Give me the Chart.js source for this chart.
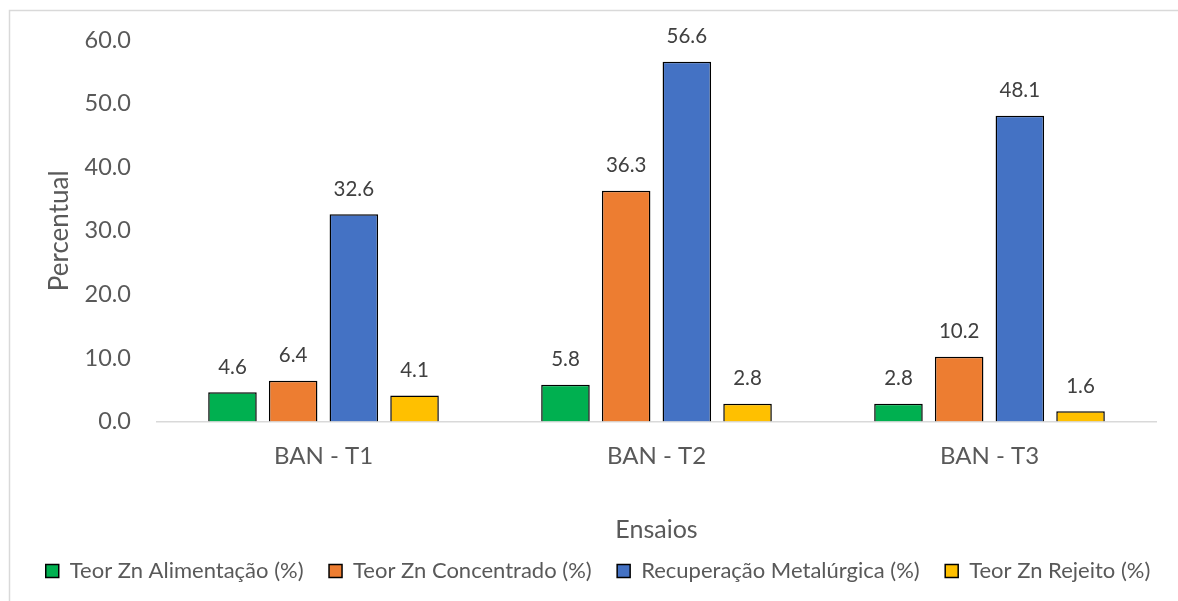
<!DOCTYPE html>
<html>
<head>
<meta charset="utf-8">
<script src="https://cdn.jsdelivr.net/npm/chart.js@4"></script>
<style>
  html, body { margin: 0; padding: 0; background: #ffffff; }
  #wrap { width: 1178px; height: 601px; }
</style>
</head>
<body>
<div id="wrap"><canvas id="c" width="1178" height="601"></canvas></div>
<script>
const categories = ['BAN - T1', 'BAN - T2', 'BAN - T3'];
const seriesNames = [
  'Teor Zn Alimentação (%)',
  'Teor Zn Concentrado (%)',
  'Recuperação Metalúrgica (%)',
  'Teor Zn Rejeito (%)'
];
const alimentacao = [4.6, 5.8, 2.8];
const concentrado = [6.4, 36.3, 10.2];
const recuperacao = [32.6, 56.6, 48.1];
const rejeito = [4.1, 2.8, 1.6];
const yTicks = [0, 10, 20, 30, 40, 50, 60];

const colors = ['#00b050', '#ed7d31', '#4472c4', '#ffc000'];
const seriesValues = [alimentacao, concentrado, recuperacao, rejeito];
const FONT = 'Lato, "Noto Sans", sans-serif';

// Light grey frame around the whole chart
const framePlugin = {
  id: 'frame',
  beforeDraw(chart) {
    const ctx = chart.ctx;
    ctx.save();
    ctx.fillStyle = '#ffffff';
    ctx.fillRect(0, 0, chart.width, chart.height);
    ctx.strokeStyle = '#d9d9d9';
    ctx.lineWidth = 1.5;
    ctx.strokeRect(9.5, 10.5, chart.width + 20, chart.height + 20);
    ctx.restore();
  }
};

// Value labels above each bar
const valueLabels = {
  id: 'valueLabels',
  afterDatasetsDraw(chart) {
    const ctx = chart.ctx;
    ctx.save();
    ctx.fillStyle = '#404040';
    ctx.font = '20.5px ' + FONT;
    ctx.textAlign = 'center';
    ctx.textBaseline = 'middle';
    chart.data.datasets.forEach((ds, i) => {
      chart.getDatasetMeta(i).data.forEach((bar, j) => {
        ctx.fillText(ds.data[j].toFixed(1), bar.x, bar.y - 25);
      });
    });
    ctx.restore();
  }
};

new Chart(document.getElementById('c'), {
  type: 'bar',
  data: {
    labels: categories,
    datasets: seriesNames.map((name, i) => ({
      label: name,
      data: seriesValues[i],
      backgroundColor: colors[i],
      borderColor: '#000000',
      borderWidth: 1.5,
      categoryPercentage: 0.729,
      barPercentage: 0.8
    }))
  },
  options: {
    responsive: false,
    animation: false,
    layout: { padding: { left: 18, right: 0, top: 26, bottom: 9 } },
    plugins: {
      tooltip: { enabled: false },
      legend: {
        position: 'bottom',
        labels: {
          color: '#595959',
          font: { family: FONT, size: 22 },
          boxWidth: 13,
          boxHeight: 13,
          padding: 25.5
        }
      }
    },
    scales: {
      x: {
        afterFit(scale) { scale.height = 113; },
        grid: { display: false, drawTicks: false },
        border: { display: true, color: '#d9d9d9', width: 1.5 },
        ticks: { color: '#595959', font: { family: FONT, size: 24 }, padding: 20 },
        title: {
          display: true,
          text: 'Ensaios',
          color: '#595959',
          font: { family: FONT, size: 25 },
          padding: { top: 10, bottom: -10 }
        }
      },
      y: {
        min: 0,
        max: 60,
        afterBuildTicks(scale) { scale.ticks = yTicks.map(v => ({ value: v })); },
        afterFit(scale) { scale.width = 139; },
        grid: { display: false, drawTicks: false },
        border: { display: false },
        ticks: {
          color: '#595959',
          font: { family: FONT, size: 23.5 },
          padding: 26,
          callback: v => Number(v).toFixed(1)
        },
        title: {
          display: true,
          text: 'Percentual',
          color: '#595959',
          font: { family: FONT, size: 26 },
          padding: { top: 26, bottom: 0 }
        }
      },
      // empty right-hand margin next to the plot area
      yMargin: {
        position: 'right',
        display: true,
        afterFit(scale) { scale.width = 22; },
        grid: { display: false, drawTicks: false },
        border: { display: false },
        ticks: { display: false }
      }
    }
  },
  plugins: [framePlugin, valueLabels]
});
</script>
</body>
</html>
